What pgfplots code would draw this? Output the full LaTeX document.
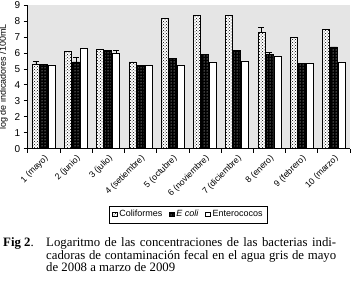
\documentclass[border=0pt]{standalone}
\usepackage{fontspec}
\setmainfont{Liberation Serif}
\newfontfamily\arial{Liberation Sans}
\usepackage{pgfplots}
\pgfplotsset{compat=1.18}
\usetikzlibrary{patterns}
\begin{document}
\begin{tikzpicture}
\begin{axis}[
  at={(0,0)}, anchor=south west,
  scale only axis, width=322.3pt, height=143.6pt,
  xmin=0.5, xmax=10.5, ymin=0, ymax=9,
  axis lines*=left,
  axis line style={black, line width=0.7pt},
  axis background/.style={fill=black!10},
  ybar=1pt, bar width=7pt,
  xtick={1,...,10},
  xticklabels={1 (mayo),2 (junio),3 (julio),4 (setiembre),5 (octubre),6 (noviembre),7 (diciembre),8 (enero),9 (febrero),10 (marzo)},
  minor xtick={0.5,1.5,...,10.5},
  major x tick style={draw=none},
  minor x tick style={black, line width=0.6pt},
  minor tick length=4pt, major tick length=4pt,
  ytick={0,...,9},
  y tick style={black, line width=0.6pt},
  tick align=outside,
  /pgf/number format/assume math mode=true,
  x tick label style={rotate=45, anchor=north east, font=\arial\fontsize{8.7}{9}\selectfont, inner sep=1pt},
  y tick label style={font=\arial\fontsize{10}{10}\selectfont},
  ylabel={log de indicadores /100mL},
  ylabel style={font=\arial\fontsize{9}{9}\selectfont},
  legend style={at={(0.4986,-0.458)}, anchor=center, legend columns=-1,
    font=\arial\fontsize{9}{9}\selectfont, draw=black, line width=0.7pt,
    inner xsep=3pt, inner ysep=2.5pt,
    /tikz/every even column/.append style={column sep=5pt}},
  legend image code/.code={\draw[#1, line width=0.5pt] (0pt,-2.3pt) rectangle (4.6pt,2.3pt);},
]
\addplot[fill=white, draw=black, line width=0.6pt, postaction={pattern=crosshatch dots},
  error bars/.cd, y dir=plus, y explicit,
  error bar style={black, line width=0.6pt},
  error mark options={rotate=90, mark size=3pt, black, line width=0.6pt}]
  coordinates {
  (1,5.31) +- (0,0.15)
  (2,6.07) +- (0,0)
  (3,6.23) +- (0,0)
  (4,5.44) +- (0,0)
  (5,8.17) +- (0,0)
  (6,8.34) +- (0,0)
  (7,8.34) +- (0,0)
  (8,7.27) +- (0,0.31)
  (9,6.97) +- (0,0)
  (10,7.47) +- (0,0)
  };
\addlegendentry{Coliformes}
\addplot[fill=black, draw=black, line width=0.6pt, postaction={pattern=dots, pattern color=white},
  error bars/.cd, y dir=plus, y explicit,
  error bar style={black, line width=0.6pt},
  error mark options={rotate=90, mark size=3pt, black, line width=0.6pt}]
  coordinates {
  (1,5.27) +- (0,0)
  (2,5.44) +- (0,0.3)
  (3,6.17) +- (0,0)
  (4,5.22) +- (0,0)
  (5,5.67) +- (0,0)
  (6,5.88) +- (0,0)
  (7,6.17) +- (0,0)
  (8,5.90) +- (0,0.12)
  (9,5.33) +- (0,0)
  (10,6.38) +- (0,0)
  };
\addlegendentry{{\itshape E coli}}
\addplot[fill=white, draw=black, line width=0.6pt,
  error bars/.cd, y dir=plus, y explicit,
  error bar style={black, line width=0.6pt},
  error mark options={rotate=90, mark size=3pt, black, line width=0.6pt}]
  coordinates {
  (1,5.25) +- (0,0)
  (2,6.30) +- (0,0)
  (3,6.00) +- (0,0.17)
  (4,5.22) +- (0,0)
  (5,5.22) +- (0,0)
  (6,5.44) +- (0,0)
  (7,5.50) +- (0,0)
  (8,5.79) +- (0,0)
  (9,5.37) +- (0,0)
  (10,5.44) +- (0,0)
  };
\addlegendentry{Enterococos}
\end{axis}
\node[anchor=base west, inner sep=0, font=\fontsize{12.8}{12.5}\selectfont] at (-24.7pt,-97.9pt) {\textbf{Fig 2}.};
\node[anchor=base west, inner sep=0, font=\fontsize{12.8}{12.5}\selectfont] at (18.3pt,-97.9pt)
  {\makebox[290pt][s]{Logaritmo de las concentraciones de las bacterias indi-}};
\node[anchor=base west, inner sep=0, font=\fontsize{12.8}{12.5}\selectfont] at (18.3pt,-110.5pt)
  {\makebox[290pt][s]{cadoras de contaminación fecal en el agua gris de mayo}};
\node[anchor=base west, inner sep=0, font=\fontsize{12.8}{12.5}\selectfont] at (18.3pt,-123.1pt)
  {de 2008 a marzo de 2009};
\pgfresetboundingbox
\path[use as bounding box] (-27.7pt,-132.4pt) rectangle (325.3pt,148.6pt);
\end{tikzpicture}
\end{document}
